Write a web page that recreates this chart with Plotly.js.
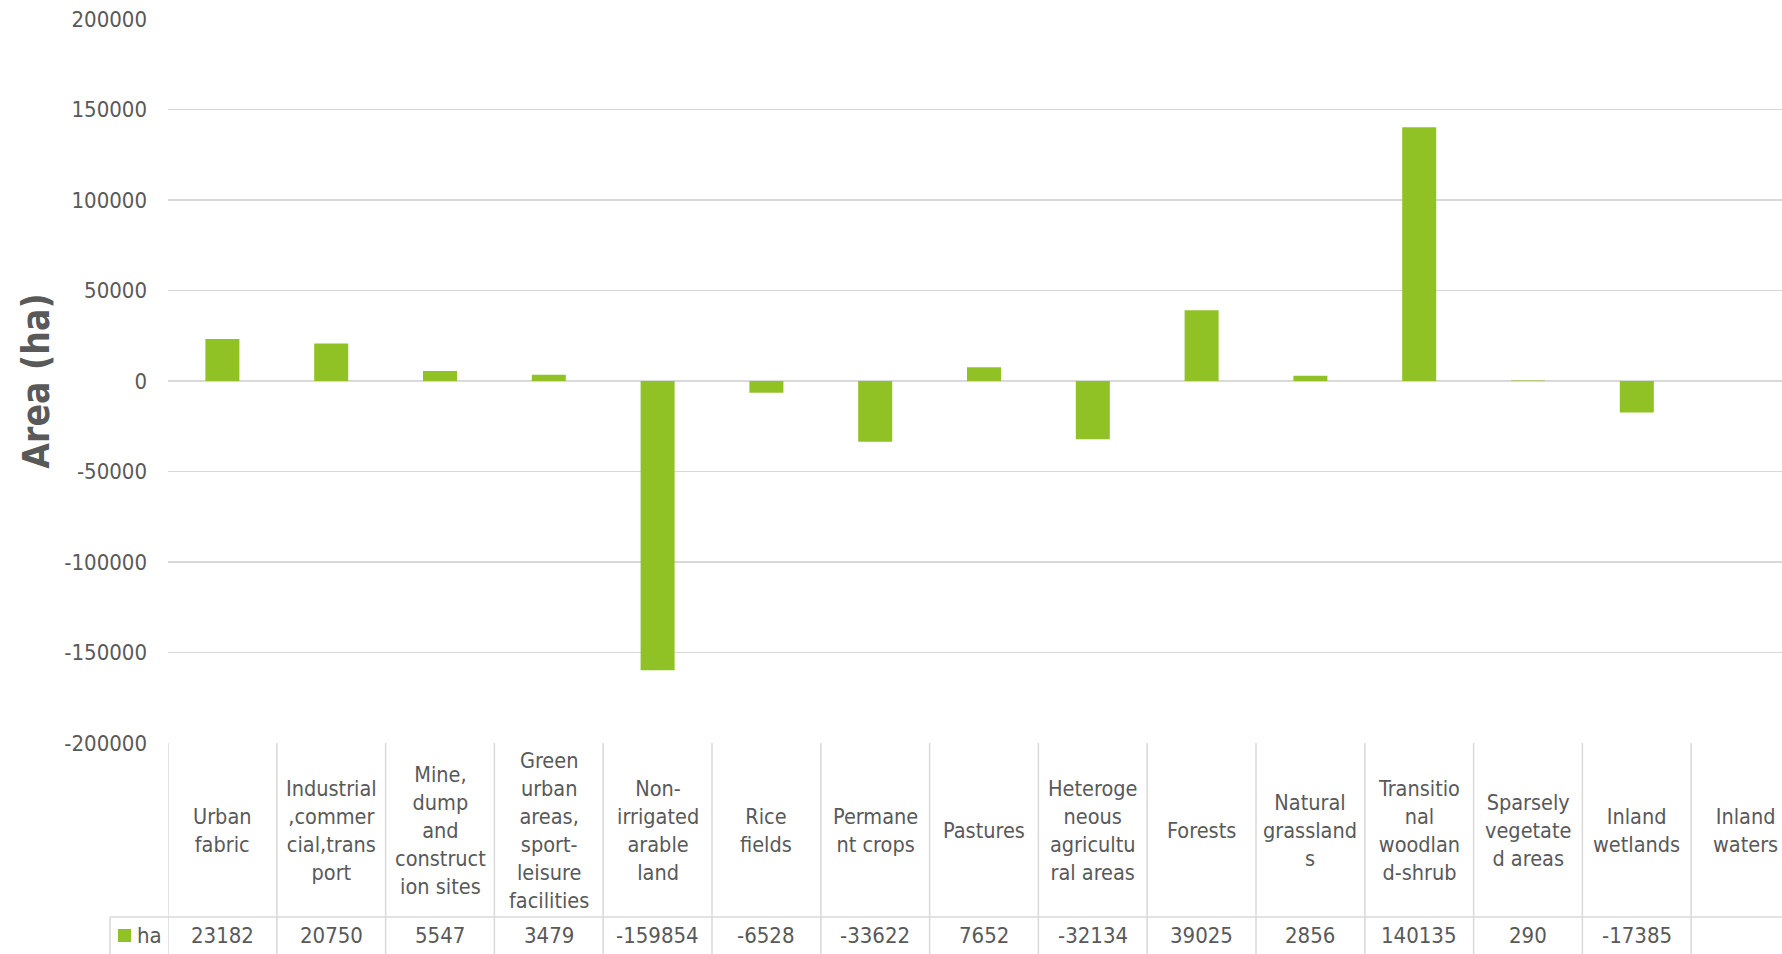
<!DOCTYPE html>
<html>
<head>
<meta charset="utf-8">
<script src="https://cdn.plot.ly/plotly-3.0.1.min.js"></script>
<style>
  html, body { margin: 0; padding: 0; background: #ffffff; overflow: hidden; }
  #chart { width: 1782px; height: 954px; }
</style>
</head>
<body>
<div id="chart"></div>
<script>
// ---- data ----
const categories = [
  "Urban fabric", "Industrial,commercial,transport", "Mine, dump and construction sites",
  "Green urban areas, sport-leisure facilities", "Non-irrigated arable land", "Rice fields",
  "Permanent crops", "Pastures", "Heterogeneous agricultural areas", "Forests",
  "Natural grasslands", "Transitional woodland-shrub", "Sparsely vegetated areas",
  "Inland wetlands", "Inland waters"
];
const headerLabels = [
  "Urban<br>fabric",
  "Industrial<br>,commer<br>cial,trans<br>port",
  "Mine,<br>dump<br>and<br>construct<br>ion sites",
  "Green<br>urban<br>areas,<br>sport-<br>leisure<br>facilities",
  "Non-<br>irrigated<br>arable<br>land",
  "Rice<br>fields",
  "Permane<br>nt crops",
  "Pastures",
  "Heteroge<br>neous<br>agricultu<br>ral areas",
  "Forests",
  "Natural<br>grassland<br>s",
  "Transitio<br>nal<br>woodlan<br>d-shrub",
  "Sparsely<br>vegetate<br>d areas",
  "Inland<br>wetlands",
  "Inland<br>waters"
];
const seriesName = "ha";
const haValues = [23182, 20750, 5547, 3479, -159854, -6528, -33622, 7652, -32134, 39025, 2856, 140135, 290, -17385, null];
const tickValues = [-200000, -150000, -100000, -50000, 0, 50000, 100000, 150000, 200000];
const tickLabels = ["-200000", "-150000", "-100000", "-50000", "0", "50000", "100000", "150000", "200000"];
const yTitle = "Area (ha)";

// ---- styling ----
const FONT = "DejaVu Sans Condensed, DejaVu Sans, sans-serif";
const TEXT = "#595959";
const GRID = "#d9d9d9";
const BAR = "#90c226";

const W = 1782, H = 954;
const mL = 168, mR = 0, mT = 19, mB = 211;
const plotW = W - mL - mR, plotH = H - mT - mB;
const colW = 108.8;
const xMax = plotW / colW - 0.5;
const px2py = p => (H - mB - p) / plotH;     // pixel y -> paper y
const px2px = p => (p - mL) / plotW;        // pixel x -> paper x

const idx = categories.map((c, i) => i);

const trace = {
  type: "bar",
  x: idx,
  y: haValues,
  name: seriesName,
  marker: { color: BAR, line: { width: 0 } },
  hoverinfo: "skip"
};

const headerBottom = px2py(917);
const tableBottom = px2py(H + 40);

const shapes = [];
// vertical column borders
for (let i = 0; i < categories.length; i++) {
  shapes.push({ type: "line", xref: "x", yref: "paper", x0: i - 0.5, x1: i - 0.5,
    y0: 0, y1: tableBottom, line: { color: GRID, width: 1.5 } });
}
// horizontal border between header row and value row
shapes.push({ type: "line", xref: "paper", yref: "paper", x0: px2px(110), x1: 1.1,
  y0: headerBottom, y1: headerBottom, line: { color: GRID, width: 1.5 } });
// legend cell left border
shapes.push({ type: "line", xref: "paper", yref: "paper", x0: px2px(110), x1: px2px(110),
  y0: headerBottom, y1: tableBottom, line: { color: GRID, width: 1.5 } });
// legend key
shapes.push({ type: "rect", xref: "paper", yref: "paper", x0: px2px(118), x1: px2px(131),
  y0: px2py(942), y1: px2py(929), fillcolor: BAR, line: { width: 0 } });

const annotations = [];
idx.forEach(i => {
  annotations.push({ xref: "x", yref: "paper", x: i, y: px2py(830), text: headerLabels[i],
    showarrow: false, xanchor: "center", yanchor: "middle", align: "center",
    font: { family: FONT, size: 21.5, color: TEXT } });
  if (haValues[i] !== null) {
    annotations.push({ xref: "x", yref: "paper", x: i, y: px2py(935), text: String(haValues[i]),
      showarrow: false, xanchor: "center", yanchor: "middle",
      font: { family: FONT, size: 22, color: TEXT } });
  }
});
annotations.push({ xref: "paper", yref: "paper", x: px2px(135), y: px2py(935), text: seriesName,
  showarrow: false, xanchor: "left", yanchor: "middle",
  font: { family: FONT, size: 22, color: TEXT } });

const layout = {
  width: W, height: H,
  margin: { l: mL, r: mR, t: mT, b: mB, pad: 0 },
  paper_bgcolor: "#ffffff",
  plot_bgcolor: "#ffffff",
  showlegend: false,
  bargap: 0.6875,
  xaxis: {
    range: [-0.5, xMax],
    showticklabels: false,
    showgrid: false, zeroline: false, showline: false, ticks: "",
    fixedrange: true
  },
  yaxis: {
    range: [-200000, 200000],
    tickmode: "array",
    tickvals: tickValues,
    ticktext: tickLabels,
    ticks: "",
    ticklabelstandoff: 20,
    showgrid: true, gridcolor: GRID, gridwidth: 1.5,
    zeroline: true, zerolinecolor: GRID, zerolinewidth: 1.5,
    showline: false,
    automargin: false,
    tickfont: { family: FONT, size: 22, color: TEXT },
    title: { text: yTitle, standoff: 3,
      font: { family: FONT, size: 37, color: TEXT, weight: "bold" } },
    fixedrange: true
  },
  shapes: shapes,
  annotations: annotations
};

Plotly.newPlot("chart", [trace], layout, { displayModeBar: false, staticPlot: true });
</script>
</body>
</html>
